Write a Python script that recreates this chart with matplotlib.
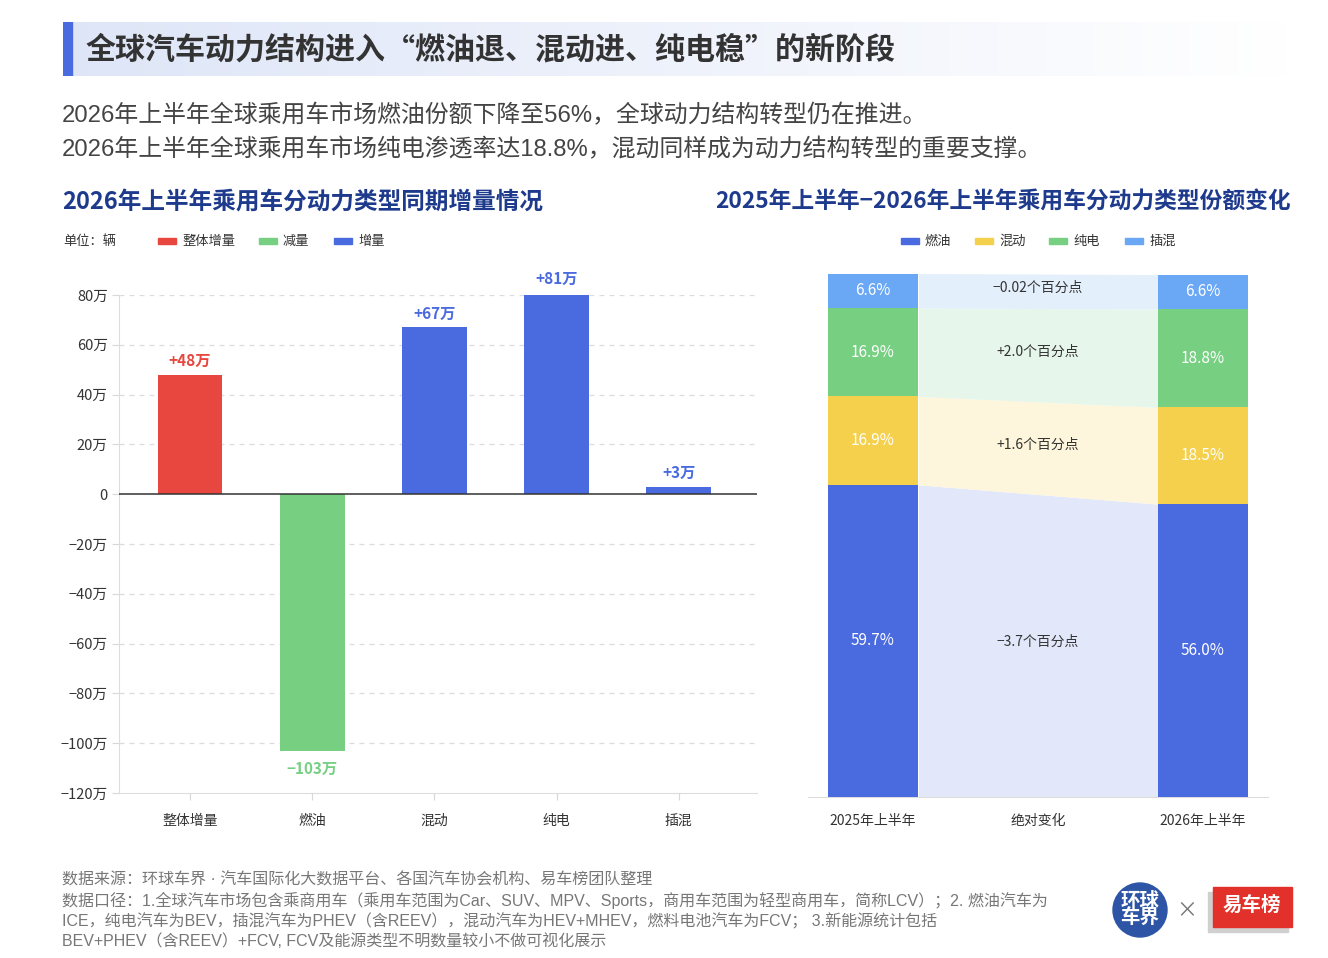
import numpy as np
import matplotlib
matplotlib.use("Agg")
import matplotlib.pyplot as plt
from matplotlib.patches import Rectangle, Circle

plt.rcParams['font.family'] = ['Noto Sans CJK SC', 'DejaVu Sans']
plt.rcParams['axes.unicode_minus'] = True
MIXED = ['Liberation Sans', 'Noto Sans CJK SC', 'DejaVu Sans']

W, H = 1328, 958

# ---- data ----
inc_cats = ['整体增量', '燃油', '混动', '纯电', '插混']
inc_vals = [48, -103, 67, 81, 3]            # 万辆
inc_kind = ['total', 'down', 'up', 'up', 'up']
inc_ticks = [-120, -100, -80, -60, -40, -20, 0, 20, 40, 60, 80]

share_types = ['燃油', '混动', '纯电', '插混']
share_2025 = [59.7, 16.9, 16.9, 6.6]
share_2026 = [56.0, 18.5, 18.8, 6.6]
share_delta = ['−3.7个百分点', '+1.6个百分点', '+2.0个百分点', '−0.02个百分点']
share_cats = ['2025年上半年', '绝对变化', '2026年上半年']

# ---- colours ----
RED, GREEN, BLUE = '#e8473f', '#77cf82', '#4a6ae0'
kind_col = {'total': RED, 'down': GREEN, 'up': BLUE}
share_col = ['#4a6ae0', '#f4d04c', '#77cf82', '#6aa7f4']
band_col = ['#e2e8f9', '#fdf6dc', '#e7f6ea', '#e4effc']
NAVY = '#1d3a8c'


def fx(x):
    return x / W


def fy(y):
    return 1 - y / H


def box(l, t, r, b):
    return [fx(l), fy(b), (r - l) / W, (b - t) / H]


fig = plt.figure(figsize=(W / 100, H / 100), dpi=100)
fig.patch.set_facecolor('white')

# ---- title band ----
bg = fig.add_axes(box(63, 22, 1290, 76))
grad = np.linspace(0, 1, 256)
c0 = np.array([0.87, 0.90, 0.97])
c1 = np.array([1.0, 1.0, 1.0])
img = c0[None, :] * (1 - grad[:, None]) + c1[None, :] * grad[:, None]
bg.imshow(img[None, :, :], aspect='auto', extent=[0, 1, 0, 1])
bg.add_patch(Rectangle((0, 0), 9 / 1227, 1, color=BLUE))
bg.set_axis_off()

fig.text(fx(86), fy(49), '全球汽车动力结构进入“燃油退、混动进、纯电稳”的新阶段',
         fontsize=21.6, fontweight='bold', color='#333333', va='center')
fig.text(fx(62), fy(116), '2026年上半年全球乘用车市场燃油份额下降至56%，全球动力结构转型仍在推进。',
         fontsize=17.2, color='#444444', va='center', family=MIXED)
fig.text(fx(62), fy(150), '2026年上半年全球乘用车市场纯电渗透率达18.8%，混动同样成为动力结构转型的重要支撑。',
         fontsize=17.2, color='#444444', va='center', family=MIXED)

fig.text(fx(62), fy(202), '2026年上半年乘用车分动力类型同期增量情况',
         fontsize=17, fontweight='bold', color=NAVY, va='center')
fig.text(fx(1291), fy(202), '2025年上半年−2026年上半年乘用车分动力类型份额变化',
         fontsize=16.4, fontweight='bold', color=NAVY, va='center', ha='right')

# ---- left legend ----
fig.text(fx(63), fy(241), '单位：辆', fontsize=9.5, color='#333333', va='center')
for x0, lab, col in [(158, '整体增量', RED), (259, '减量', GREEN), (334, '增量', BLUE)]:
    fig.patches.append(Rectangle((fx(x0), fy(244)), 18 / W, 6 / H, color=col,
                                 transform=fig.transFigure, figure=fig))
    fig.text(fx(x0 + 24), fy(241), lab, fontsize=9.5, color='#333333', va='center')

# ---- left chart ----
ax = fig.add_axes(box(119, 295, 757, 793))
xs = np.arange(len(inc_cats))
cols = [kind_col[k] for k in inc_kind]
ax.bar(xs, inc_vals, width=0.53, color=cols, zorder=3)
ax.set_xlim(-0.58, 4.64)
ax.set_ylim(-120, 80)
ax.set_yticks(inc_ticks)
ax.set_yticklabels([('0' if v == 0 else f'{v}万'.replace('-', '−')) for v in inc_ticks])
for v in inc_ticks:
    if v == 0:
        ax.axhline(0, color='#333333', lw=1.1, zorder=4)
    elif v != -120:
        ax.axhline(v, color='#dcdcdc', lw=0.9, ls=(0, (4, 4)), zorder=1)
ax.set_xticks(xs)
ax.set_xticklabels(inc_cats)
ax.tick_params(axis='x', length=5, color='#d8d8d8', labelsize=10, labelcolor='#333333', pad=10)
ax.tick_params(axis='y', length=5, color='#d8d8d8', labelsize=10.5, labelcolor='#333333', pad=3)
for s in ['top', 'right']:
    ax.spines[s].set_visible(False)
for s in ['left', 'bottom']:
    ax.spines[s].set_color('#dddddd')
for x, v, c in zip(xs, inc_vals, cols):
    lab = (f'+{v}万' if v > 0 else f'{v}万'.replace('-', '−'))
    ax.annotate(lab, (x, v), xytext=(0, 10 if v > 0 else -13), textcoords='offset points',
                ha='center', va='center', fontsize=11, fontweight='bold', color=c,
                annotation_clip=False)

# ---- right legend ----
for x0, lab, col in zip([901, 975, 1049, 1125], share_types, share_col):
    fig.patches.append(Rectangle((fx(x0), fy(244)), 18 / W, 6 / H, color=col,
                                 transform=fig.transFigure, figure=fig))
    fig.text(fx(x0 + 24), fy(241), lab, fontsize=9.5, color='#333333', va='center')

# ---- right chart ----
ax2 = fig.add_axes(box(808, 274, 1268, 797))
bw = 0.55
b25 = np.concatenate([[0], np.cumsum(share_2025)[:-1]])
b26 = np.concatenate([[0], np.cumsum(share_2026)[:-1]])
ax2.bar(0, share_2025, bottom=b25, width=bw, color=share_col, zorder=3)
ax2.bar(2, share_2026, bottom=b26, width=bw, color=share_col, zorder=3)
xb = [bw / 2, 2 - bw / 2]
for i in range(len(share_types)):
    lo = [b25[i], b26[i]]
    hi = [b25[i] + share_2025[i], b26[i] + share_2026[i]]
    ax2.fill_between(xb, lo, hi, color=band_col[i], lw=0, zorder=2)
    ax2.text(0, b25[i] + share_2025[i] / 2, f'{share_2025[i]:.1f}%', ha='center', va='center',
             color='white', fontsize=11, zorder=5)
    ax2.text(2, b26[i] + share_2026[i] / 2, f'{share_2026[i]:.1f}%', ha='center', va='center',
             color='white', fontsize=11, zorder=5)
    ym = (b25[i] + share_2025[i] / 2 + b26[i] + share_2026[i] / 2) / 2
    ax2.text(1, ym + 0.7, share_delta[i], ha='center', va='center',
             color='#333333', fontsize=10, zorder=5)
ax2.set_xlim(-0.394, 2.394)
ax2.set_ylim(0, 100)
ax2.set_xticks([0, 1, 2])
ax2.set_xticklabels(share_cats)
ax2.tick_params(axis='x', length=0, labelsize=10, labelcolor='#333333', pad=12)
ax2.set_yticks([])
for s in ['top', 'right', 'left']:
    ax2.spines[s].set_visible(False)
ax2.spines['bottom'].set_color('#dddddd')

# ---- footer ----
foot = [
    '数据来源：环球车界 · 汽车国际化大数据平台、各国汽车协会机构、易车榜团队整理',
    '数据口径：1.全球汽车市场包含乘商用车（乘用车范围为Car、SUV、MPV、Sports，商用车范围为轻型商用车，简称LCV）；2. 燃油汽车为',
    'ICE，纯电汽车为BEV，插混汽车为PHEV（含REEV），混动汽车为HEV+MHEV，燃料电池汽车为FCV； 3.新能源统计包括',
    'BEV+PHEV（含REEV）+FCV, FCV及能源类型不明数量较小不做可视化展示',
]
for i, line in enumerate(foot):
    fig.text(fx(62), fy(880 + i * 20.5), line, fontsize=11.55, color='#777777', va='center',
             family=MIXED)

# ---- logos ----
lg = fig.add_axes(box(1100, 870, 1310, 950))
lg.set_xlim(1100, 1310)
lg.set_ylim(950, 870)
lg.set_axis_off()
lg.set_aspect('equal')
lg.add_patch(Circle((1140, 910), 27, color='#2e55a5'))
lg.text(1140, 910, '环球\n车界', color='white', fontsize=14, fontweight='bold',
        ha='center', va='center', linespacing=0.85)
lg.text(1187, 910, '×', color='#777777', fontsize=15, ha='center', va='center')
lg.add_patch(Rectangle((1208, 892), 80, 40, color='#d0d0d0'))
lg.add_patch(Rectangle((1213, 887), 79, 40, color='#e2312a'))
lg.text(1252, 905, '易车榜', color='white', fontsize=14, fontweight='bold', ha='center', va='center')

fig.savefig('out.png', dpi=100, facecolor='white')
